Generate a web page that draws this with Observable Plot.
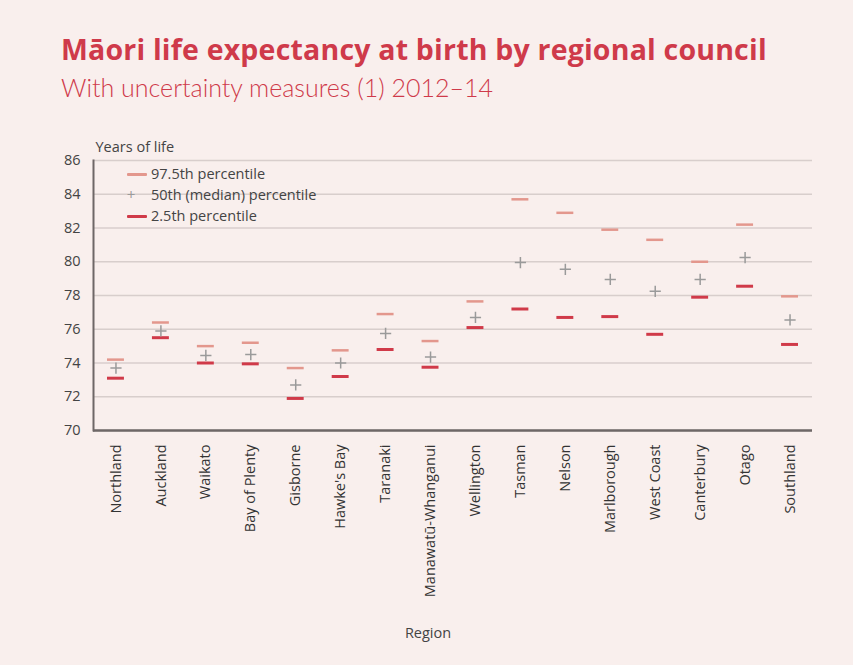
<!DOCTYPE html>
<html>
<head>
<meta charset="utf-8">
<script src="https://cdn.jsdelivr.net/npm/d3@7"></script>
<script src="https://cdn.jsdelivr.net/npm/@observablehq/plot@0.6"></script>
<style>
  html, body { margin: 0; padding: 0; background: #f9efed; }
  #wrap { position: relative; width: 853px; height: 665px; background: #f9efed; font-family: "Open Sans", Lato, sans-serif; overflow: hidden; }
  #title { position: absolute; left: 61px; top: 34px; font-size: 28.5px; line-height: 30px; letter-spacing: 0.2px; font-weight: 700; color: #cf3a4a; white-space: nowrap; }
  #subtitle { position: absolute; left: 61px; top: 75px; font-family: Lato, sans-serif; font-size: 25px; line-height: 25px; font-weight: 300; color: #cf3a4a; white-space: nowrap; }
  #chart { position: absolute; left: 0; top: 130px; }
  #legend { position: absolute; left: 126px; top: 163px; font-size: 14.5px; color: #444; }
  .row { position: relative; height: 21px; line-height: 21px; padding-left: 25px; white-space: nowrap; }
  .sw { position: absolute; left: 1px; top: 10px; width: 20px; height: 3px; border-radius: 1px; }
  .plus { position: absolute; left: 0px; top: 0px; width: 10px; text-align: center; color: #9a9a9a; font-size: 15px; }
</style>
</head>
<body>
<div id="wrap">
  <div id="title">Māori life expectancy at birth by regional council</div>
  <div id="subtitle">With uncertainty measures (1) 2012–14</div>
  <div id="chart"></div>
  <div id="legend">
    <div class="row"><span class="sw" style="background:#e3978d"></span>97.5th percentile</div>
    <div class="row"><span class="plus">+</span>50th (median) percentile</div>
    <div class="row"><span class="sw" style="background:#d03a49"></span>2.5th percentile</div>
  </div>
</div>
<script>
const regions = ["Northland", "Auckland", "Waikato", "Bay of Plenty", "Gisborne", "Hawke's Bay", "Taranaki", "Manawatū-Whanganui", "Wellington", "Tasman", "Nelson", "Marlborough", "West Coast", "Canterbury", "Otago", "Southland"];
const upper97_5 = [74.2, 76.4, 75.0, 75.2, 73.7, 74.75, 76.9, 75.3, 77.65, 83.7, 82.9, 81.9, 81.3, 80.0, 82.2, 77.95];
const median50 = [73.7, 75.9, 74.45, 74.5, 72.7, 74.0, 75.75, 74.35, 76.7, 79.95, 79.55, 78.95, 78.25, 78.95, 80.25, 76.55];
const lower2_5 = [73.1, 75.5, 74.0, 73.95, 71.9, 73.2, 74.8, 73.75, 76.1, 77.2, 76.7, 76.75, 75.7, 77.9, 78.55, 75.1];
const yTicks = [70, 72, 74, 76, 78, 80, 82, 84, 86];

const data = regions.map((r, i) => ({region: r, upper: upper97_5[i], median: median50[i], lower: lower2_5[i]}));

const inset = 14;
const chart = Plot.plot({
  width: 853,
  height: 520,
  marginTop: 30,
  marginBottom: 220,
  marginLeft: 93,
  marginRight: 41,
  style: {background: "transparent", fontFamily: "'Open Sans', Lato, sans-serif"},
  x: {type: "band", domain: regions, padding: 0, round: false},
  y: {domain: [70, 86]},
  marks: [
    Plot.gridY(yTicks, {stroke: "#d8cecc", strokeOpacity: 1, strokeWidth: 1.5}),
    Plot.axisY(yTicks, {tickSize: 0, tickPadding: 13, fontSize: 14.5, fill: "#444", label: null}),
    Plot.axisX({tickSize: 0, tickPadding: 14, tickRotate: -90, fontSize: 14.5, fill: "#333", label: null}),
    Plot.frame({anchor: "left", stroke: "#6e6767", strokeWidth: 2}),
    Plot.ruleY([70], {stroke: "#6e6767", strokeWidth: 2.5}),
    Plot.tickY(data, {x: "region", y: "upper", stroke: "#e3978d", strokeWidth: 2.5, insetLeft: inset, insetRight: inset}),
    Plot.tickY(data, {x: "region", y: "lower", stroke: "#d03a49", strokeWidth: 3, insetLeft: inset, insetRight: inset}),
    Plot.dot(data, {x: "region", y: "median", symbol: "plus", r: 3.7, stroke: "#9a9a9a", strokeWidth: 1.5}),
    Plot.text(["Years of life"], {frameAnchor: "top-left", textAnchor: "start", dx: 2, dy: -19, fontSize: 14.5, fill: "#444"}),
    Plot.text(["Region"], {frameAnchor: "bottom", dx: -25, dy: 207, fontSize: 14.5, fill: "#444"})
  ]
});
document.getElementById("chart").appendChild(chart);
</script>
</body>
</html>
